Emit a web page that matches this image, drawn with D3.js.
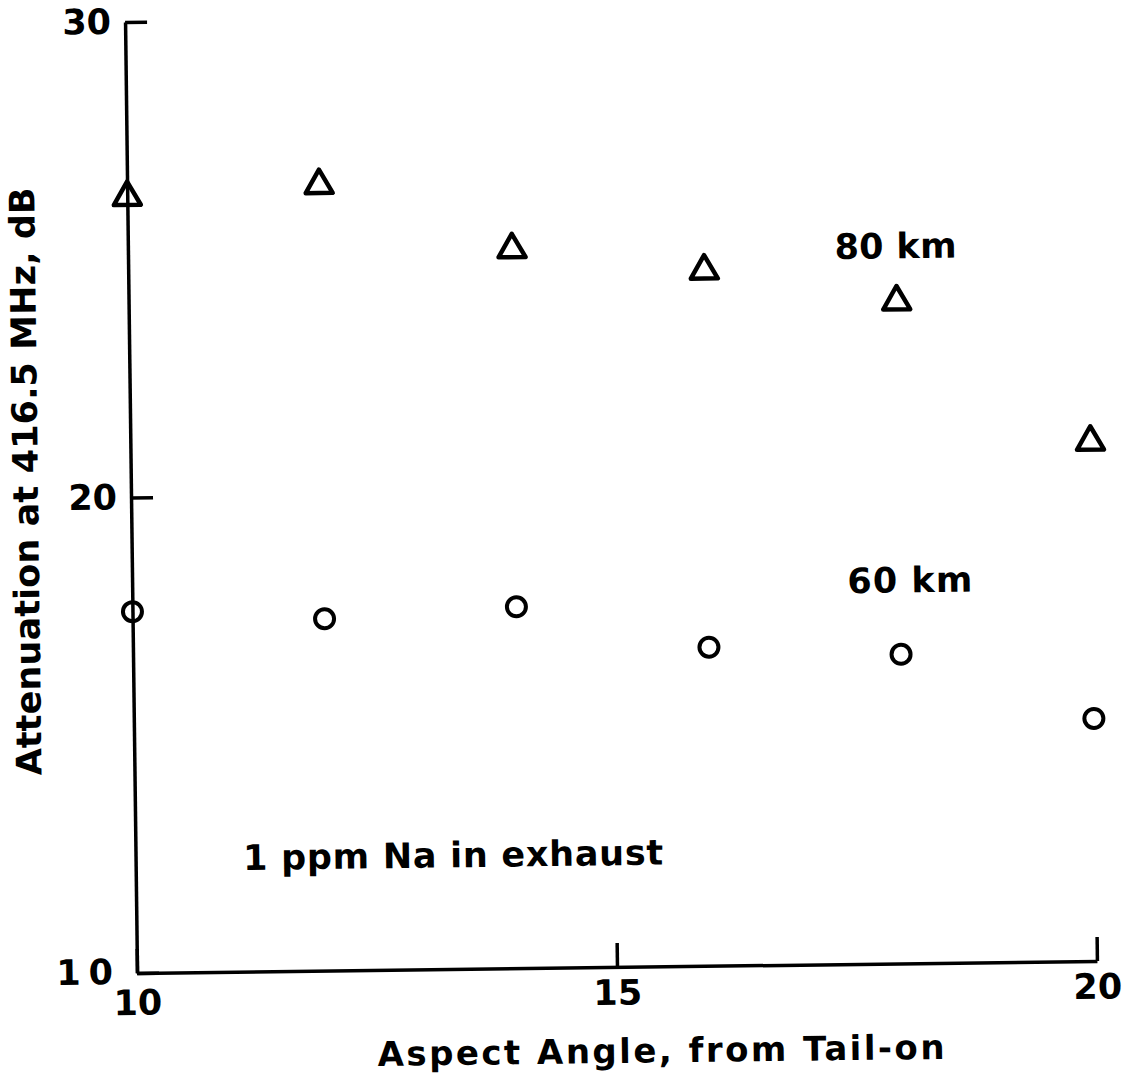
<!DOCTYPE html>
<html>
<head>
<meta charset="utf-8">
<script src="https://cdn.jsdelivr.net/npm/d3@7"></script>
<style>
  html, body { margin: 0; padding: 0; background: #fff; }
  svg text { font-family: "DejaVu Sans", sans-serif; font-weight: bold; fill: #000; }
</style>
</head>
<body>
<div id="chart"></div>
<script>
// --- data ---
const angles = [10, 12, 14, 16, 18, 20];              // aspect angle, deg from tail-on
const atten80km = [26.4, 26.6, 25.2, 24.7, 24.0, 21.0]; // dB, triangles
const atten60km = [17.6, 17.4, 17.6, 16.7, 16.5, 15.1]; // dB, circles

const xTicks = [10, 15, 20];
const yTicks = [10, 20, 30];

const width = 1123, height = 1075;
const plotLeft = 137, plotRight = 1097, plotTop = 22, plotBottom = 973;

const x = d3.scaleLinear().domain([10, 20]).range([plotLeft, plotRight]);
const y = d3.scaleLinear().domain([10, 30]).range([plotBottom, plotTop]);

const svg = d3.select("#chart").append("svg")
    .attr("width", width)
    .attr("height", height)
    .attr("viewBox", [0, 0, width, height]);

// the scanned figure sits a little askew
const g = svg.append("g")
    .attr("transform", `rotate(-0.72, ${plotLeft}, ${plotBottom})`);

// axes: ticks point inward, no outer ticks
const yAxis = g.append("g")
    .attr("transform", `translate(${plotLeft},0)`)
    .call(d3.axisLeft(y).tickValues(yTicks).tickSizeInner(-22).tickSizeOuter(0).tickPadding(14));

const xAxis = g.append("g")
    .attr("transform", `translate(0,${plotBottom})`)
    .call(d3.axisBottom(x).tickValues(xTicks).tickSizeInner(-24).tickSizeOuter(0).tickPadding(13));

[yAxis, xAxis].forEach(ax => {
    ax.attr("font-family", null).attr("font-size", null);
    ax.select(".domain").attr("stroke", "#000").attr("stroke-width", 3.5);
    ax.selectAll(".tick line").attr("stroke", "#000").attr("stroke-width", 3.5);
    ax.selectAll(".tick text").style("font-size", "35px");
});

// the "1 0" at the origin is spaced out; keep it clear of the x-axis "10"
yAxis.selectAll(".tick text")
    .filter(d => d === 10)
    .style("letter-spacing", "8px")
    .attr("x", -16)
    .attr("dy", "0.3em");
xAxis.selectAll(".tick text")
    .filter(d => d === 10)
    .attr("y", 17);

// 80 km series: open triangles
const tri = 27, triH = tri * Math.sqrt(3) / 2;
const triPath = `M0,${-triH / 2}L${tri / 2},${triH / 2}L${-tri / 2},${triH / 2}Z`;

g.append("g")
    .selectAll("path")
    .data(angles.map((a, i) => [a, atten80km[i]]))
    .join("path")
    .attr("d", triPath)
    .attr("transform", d => `translate(${x(d[0])},${y(d[1])})`)
    .attr("fill", "none")
    .attr("stroke", "#000")
    .attr("stroke-width", 4.5)
    .attr("stroke-linejoin", "round");

// 60 km series: open circles
g.append("g")
    .selectAll("circle")
    .data(angles.map((a, i) => [a, atten60km[i]]))
    .join("circle")
    .attr("cx", d => x(d[0]))
    .attr("cy", d => y(d[1]))
    .attr("r", 9.5)
    .attr("fill", "none")
    .attr("stroke", "#000")
    .attr("stroke-width", 4);

// annotations
g.append("text")
    .attr("x", x(17.36)).attr("y", y(24.83))
    .style("font-size", "35px")
    .attr("textLength", 122).attr("lengthAdjust", "spacing")
    .text("80 km");

g.append("text")
    .attr("x", x(17.45)).attr("y", y(17.8))
    .style("font-size", "35px")
    .attr("textLength", 125).attr("lengthAdjust", "spacing")
    .text("60 km");

g.append("text")
    .attr("x", x(11.12)).attr("y", y(12.14))
    .style("font-size", "35px")
    .attr("textLength", 420).attr("lengthAdjust", "spacing")
    .text("1 ppm Na in exhaust");

// axis titles
g.append("text")
    .attr("x", 660).attr("y", 1069)
    .attr("text-anchor", "middle")
    .style("font-size", "34px")
    .attr("textLength", 567).attr("lengthAdjust", "spacing")
    .text("Aspect Angle, from Tail-on");

g.append("text")
    .attr("transform", "translate(44,480) rotate(-90)")
    .attr("text-anchor", "middle")
    .style("font-size", "35px")
    .attr("textLength", 588).attr("lengthAdjust", "spacing")
    .text("Attenuation at 416.5 MHz, dB");
</script>
</body>
</html>
